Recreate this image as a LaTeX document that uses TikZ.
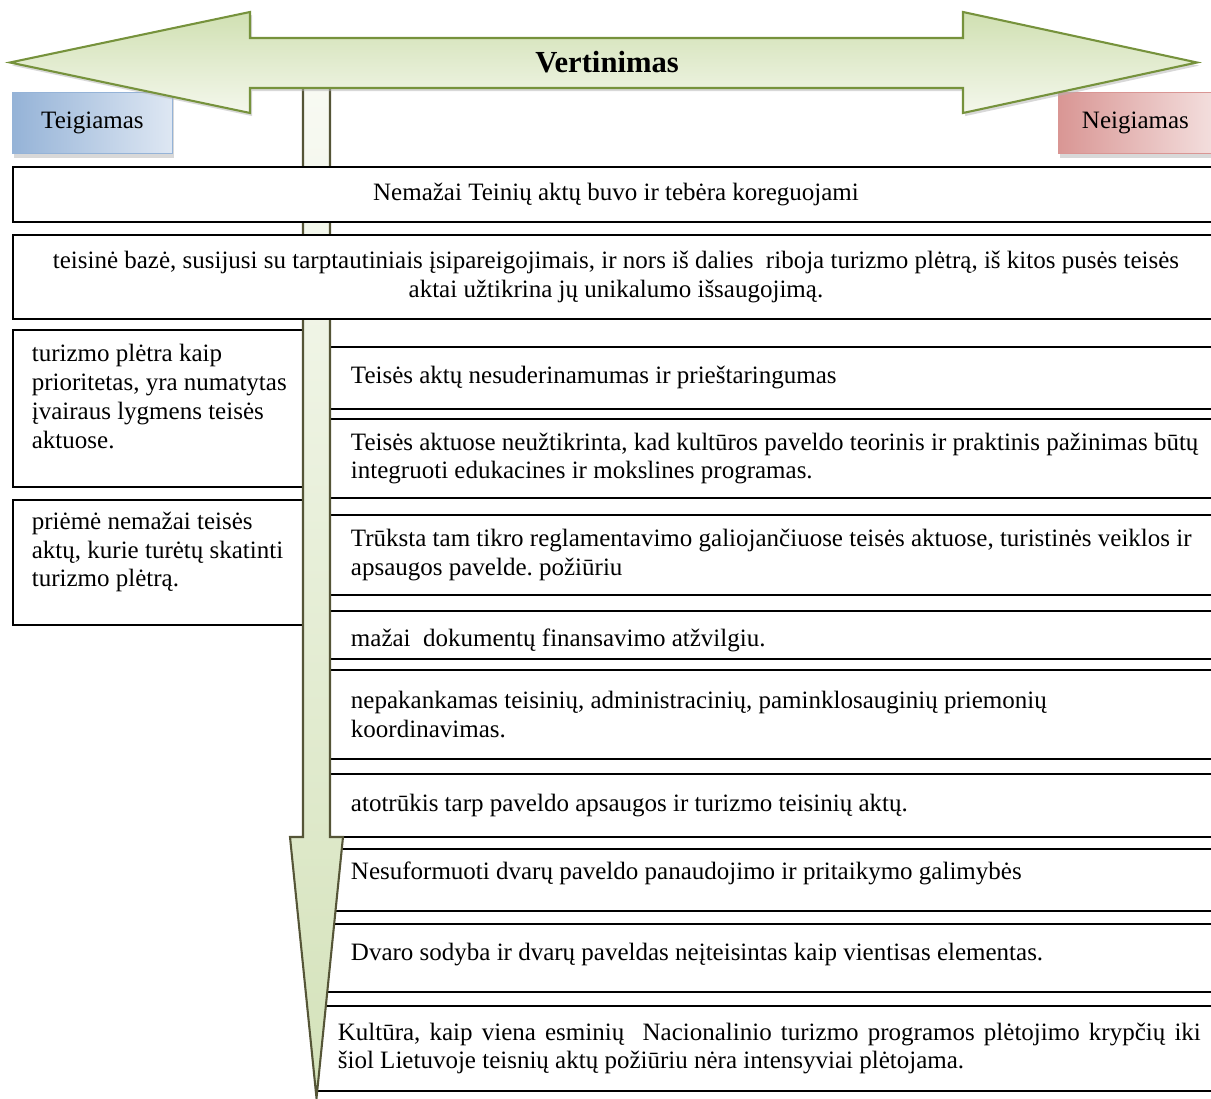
\documentclass[tikz,border=0pt]{standalone}
\usepackage{fontspec}
\setmainfont{Liberation Serif}
\usepackage{xcolor}
\usetikzlibrary{shadows}

\definecolor{arrowgreen}{RGB}{118,146,60}
\definecolor{greentop}{RGB}{208,224,178}
\definecolor{greenlow}{RGB}{244,247,236}
\definecolor{shaftline}{RGB}{85,85,55}
\definecolor{shafttop}{RGB}{248,250,243}
\definecolor{shaftlow}{RGB}{212,226,186}
\definecolor{blueleft}{RGB}{149,179,215}
\definecolor{blueright}{RGB}{222,231,243}
\definecolor{redleft}{RGB}{217,150,148}
\definecolor{redright}{RGB}{243,222,221}

\newcommand{\pxl}{0.48pt}
\newcommand{\boxfont}{\fontsize{12}{13.8}\selectfont\frenchspacing}

\begin{document}
\begin{tikzpicture}[x=0.48pt, y=-0.48pt,
    every node/.style={font=\boxfont},
    tagbox/.style={anchor=north west, minimum height=61*\pxl, inner sep=2pt, drop shadow={shadow xshift=0.6pt, shadow yshift=-2pt, fill=black!30}},
    fullbox/.style={draw, line width=0.9pt, fill=white, anchor=north west, minimum width=1206*\pxl, align=flush center, text width=560pt},
    leftbox/.style={draw, line width=0.9pt, anchor=north west, align=flush left, text width=128.6pt, inner xsep=9.1pt, inner ysep=2pt},
    rightbox/.style={draw, line width=0.9pt, anchor=north west, align=flush left, text width=422.4pt, inner xsep=16.1pt, inner ysep=2pt}]
    \path[use as bounding box, clip] (0,0) rectangle (1211,1099);

    % Teigiamas / Neigiamas
    \node[tagbox, minimum width=160*\pxl, left color=blueleft, right color=blueright, draw=blueleft] (teig) at (12,92) {Teigiamas};
    \node[tagbox, minimum width=154*\pxl, left color=redleft, right color=redright, draw=redleft] (neig) at (1058,92) {Neigiamas};

    % Teigiami
    \node[leftbox, minimum height=157*\pxl, text depth=53pt] (pos1) at (12,329) {turizmo plėtra kaip\\ prioritetas, yra numatytas\\ įvairaus lygmens teisės\\ aktuose.};
    \node[leftbox, minimum height=125*\pxl, text depth=40pt] (pos2) at (12,499) {priėmė nemažai teisės\\ aktų, kurie turėtų skatinti\\ turizmo plėtrą.};

    % Neigiami
    \node[rightbox, minimum height=62*\pxl] (neg1) at (316.5,346) {Teisės aktų nesuderinamumas ir prieštaringumas};
    \node[rightbox, minimum height=79*\pxl] (neg2) at (316.5,418) {Teisės aktuose neužtikrinta, kad kultūros paveldo teorinis ir praktinis pažinimas būtų\\ integruoti edukacines ir mokslines programas.};
    \node[rightbox, minimum height=80*\pxl] (neg3) at (316.5,514) {Trūksta tam tikro reglamentavimo galiojančiuose teisės aktuose, turistinės veiklos ir\\ apsaugos pavelde. požiūriu};
    \node[rightbox, minimum height=48*\pxl, text height=13.5pt] (neg4) at (316.5,610) {mažai~ dokumentų finansavimo atžvilgiu.};
    \node[rightbox, minimum height=89*\pxl] (neg5) at (316.5,669) {nepakankamas teisinių, administracinių, paminklosauginių priemonių\\ koordinavimas.};
    \node[rightbox, minimum height=63*\pxl] (neg6) at (316.5,773) {atotrūkis tarp paveldo apsaugos ir turizmo teisinių aktų.};
    \node[rightbox, minimum height=62*\pxl, text depth=9pt] (neg7) at (316.5,848) {Nesuformuoti dvarų paveldo panaudojimo ir pritaikymo galimybės};
    \node[rightbox, minimum height=68*\pxl, text depth=6pt] (neg8) at (316.5,923) {Dvaro sodyba ir dvarų paveldas neįteisintas kaip vientisas elementas.};
    \node[rightbox, minimum height=85*\pxl, align=justify, text width=414.2pt, inner xsep=9.8pt] (neg9) at (316.5,1005) {Kultūra, kaip viena esminių~ Nacionalinio turizmo programos plėtojimo krypčių iki\linebreak šiol Lietuvoje teisnių aktų požiūriu nėra intensyviai plėtojama.};

    % Vertikali rodyklė
    \draw[draw=shaftline, line width=1pt, top color=shafttop, bottom color=shaftlow] (303,85) -- (330,85) -- (330,837) -- (343,837) -- (316.5,1098) -- (290,837) -- (303,837) -- cycle;

    % Bendri
    \node[fullbox, minimum height=55*\pxl] (all1) at (12,166) {Nemažai Teinių aktų buvo ir tebėra koreguojami};
    \node[fullbox, minimum height=84*\pxl] (all2) at (12,234) {teisinė bazė, susijusi su tarptautiniais įsipareigojimais, ir nors iš dalies~ riboja turizmo plėtrą, iš kitos pusės teisės\\ aktai užtikrina jų unikalumo išsaugojimą.};

    % Vertinimas
    \draw[draw=arrowgreen, line width=1pt, top color=greentop, bottom color=greenlow, drop shadow={shadow xshift=1pt, shadow yshift=-1.5pt, fill=black!30}] (10,62.5) -- (250,12) -- (250,38) -- (963,38) -- (963,12) -- (1197,62.5) -- (963,113) -- (963,88) -- (250,88) -- (250,113) -- cycle;
    \node[font=\fontsize{14.7}{17}\selectfont\bfseries] (vert) at (607,62) {Vertinimas};
\end{tikzpicture}
\end{document}
